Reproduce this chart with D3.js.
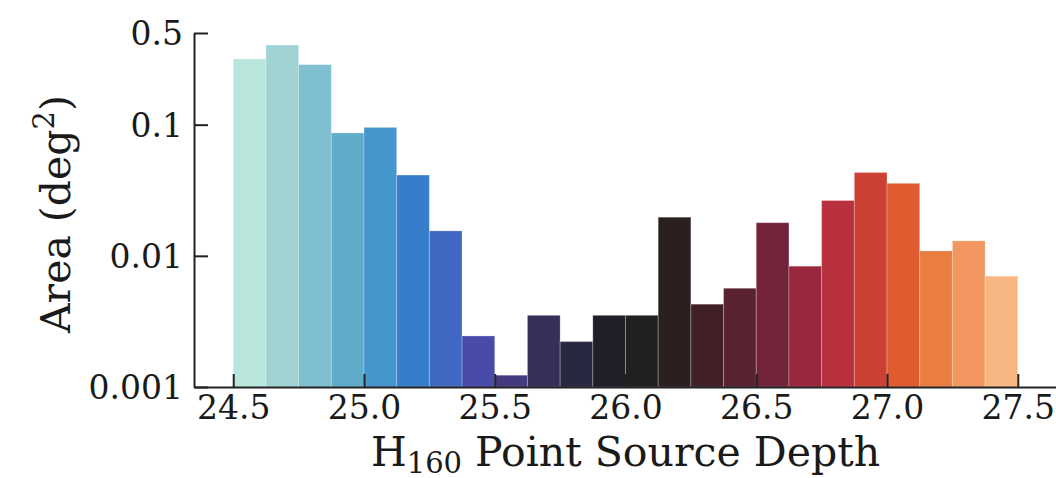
<!DOCTYPE html>
<meta charset="utf-8">
<style>
body { margin: 0; background: #fff; }
text { font-family: "DejaVu Serif", serif; fill: #1a1a1a; }
.tick text { font-size: 33px; }
.axis-label { font-size: 41px; }
</style>
<body>
<svg id="chart" width="1056" height="478"></svg>
<script src="https://d3js.org/d3.v7.min.js"></script>
<script>
// bin left edges (H160 depth), bin width 0.125
var binStart = [24.5, 24.625, 24.75, 24.875, 25.0, 25.125, 25.25, 25.375,
                25.5, 25.625, 25.75, 25.875, 26.0, 26.125, 26.25, 26.375,
                26.5, 26.625, 26.75, 26.875, 27.0, 27.125, 27.25, 27.375];
var binWidth = 0.125;
// area per bin (deg^2)
var area = [0.317, 0.405, 0.287, 0.0865, 0.0953, 0.0413, 0.0155, 0.00245,
            0.00123, 0.00352, 0.00222, 0.00352, 0.00352, 0.0197, 0.00428, 0.00566,
            0.0179, 0.00834, 0.0264, 0.0432, 0.0357, 0.0109, 0.0130, 0.00700];
var barColors = ["#b9e6dc", "#a1d3d5", "#7fbfcf", "#5eacca", "#4596cd", "#367dcc",
                 "#4169c4", "#484ca8", "#433a80", "#35305a", "#282940", "#201f28",
                 "#202020", "#2b1f1f", "#402026", "#5a2330", "#73243a", "#99283e",
                 "#b82f3d", "#cc4033", "#e05b30", "#ea7e40", "#f2975f", "#f8b683"];
var xTicks = [24.5, 25.0, 25.5, 26.0, 26.5, 27.0, 27.5];
var yTicks = [0.001, 0.01, 0.1, 0.5];
var yTickLabels = ["0.001", "0.01", "0.1", "0.5"];

var svg = d3.select("#chart");
var mLeft = 194, mRight = 1057, mTop = 33, mBottom = 387;

var x = d3.scaleLinear().domain([24.35, 27.65]).range([mLeft, mRight]);
var y = d3.scaleLog().domain([0.001, 0.5]).range([mBottom, mTop]);

var data = binStart.map(function(d, i) { return {x0: d, v: area[i], c: barColors[i]}; });

svg.append("g")
  .selectAll("rect")
  .data(data)
  .enter().append("rect")
    .attr("x", function(d) { return x(d.x0); })
    .attr("width", function(d) { return x(d.x0 + binWidth) - x(d.x0); })
    .attr("y", function(d) { return y(d.v); })
    .attr("height", function(d) { return mBottom - y(d.v); })
    .attr("fill", function(d) { return d.c; })
    .attr("stroke", "#fff")
    .attr("stroke-opacity", 0.25)
    .attr("stroke-width", 1);

// x axis, ticks pointing inward
var xAxis = svg.append("g")
  .attr("transform", "translate(0," + mBottom + ")")
  .call(d3.axisTop(x).tickValues(xTicks).tickFormat(d3.format(".1f")).tickSize(13).tickSizeOuter(0));
xAxis.selectAll(".tick text").attr("y", 9).attr("dy", "0.71em");

// y axis
var yAxis = svg.append("g")
  .attr("transform", "translate(" + mLeft + ",0)")
  .call(d3.axisRight(y).tickValues(yTicks)
    .tickFormat(function(d, i) { return yTickLabels[i]; }).tickSize(14).tickSizeOuter(0));
yAxis.selectAll(".tick text").attr("x", -11).attr("text-anchor", "end").attr("dy", "0.35em");

svg.selectAll(".domain").attr("stroke", "#222").attr("stroke-width", 2);
svg.selectAll(".tick line").attr("stroke", "#222").attr("stroke-width", 2);

// axis titles
var xl = svg.append("text")
  .attr("class", "axis-label")
  .attr("x", (mLeft + mRight) / 2)
  .attr("y", 466)
  .attr("text-anchor", "middle");
xl.append("tspan").text("H");
xl.append("tspan").attr("font-size", "29px").attr("dy", 7).text("160");
xl.append("tspan").attr("dy", -7).text(" Point Source Depth");

var yl = svg.append("text")
  .attr("class", "axis-label")
  .attr("transform", "translate(70,214) rotate(-90)")
  .attr("text-anchor", "middle");
yl.append("tspan").text("Area (deg");
yl.append("tspan").attr("font-size", "29px").attr("dy", -16).text("2");
yl.append("tspan").attr("dy", 16).text(")");
</script>
</body>
